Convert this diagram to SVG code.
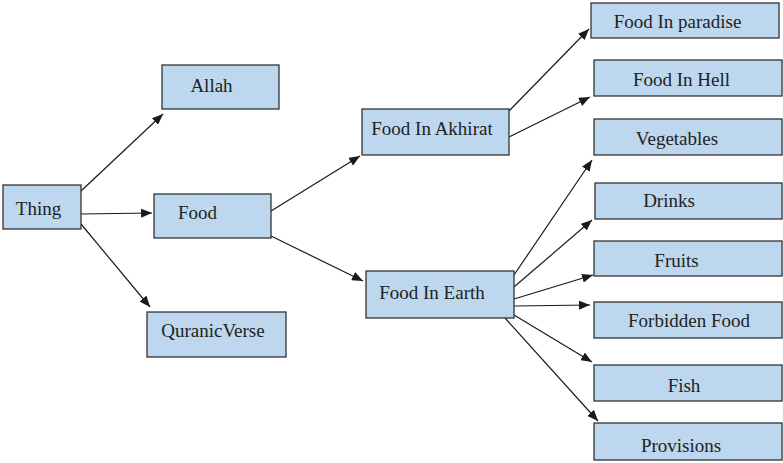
<svg xmlns="http://www.w3.org/2000/svg" width="783" height="463" viewBox="0 0 783 463">
<defs>
<marker id="ah" markerWidth="11" markerHeight="9" refX="11" refY="4.5" orient="auto" markerUnits="userSpaceOnUse">
<path d="M0,0 L11,4.5 L0,9 Z" fill="#1a1a1a"/>
</marker>
</defs>
<style>
.box{fill:#bdd7ee;stroke:#333;stroke-width:1.3}
.t{font-size:19px;fill:#222;text-anchor:middle}
.c{stroke:#1a1a1a;stroke-width:1.2;fill:none;marker-end:url(#ah)}
</style>
<rect width="783" height="463" fill="#fff"/>
<g id="connectors">
<line class="c" x1="81" y1="191" x2="163" y2="114"/>
<line class="c" x1="81" y1="214" x2="152" y2="213"/>
<line class="c" x1="81" y1="224" x2="150" y2="307"/>
<line class="c" x1="271" y1="211" x2="360" y2="156"/>
<line class="c" x1="271" y1="236" x2="363" y2="281"/>
<line class="c" x1="509" y1="111" x2="589" y2="29"/>
<line class="c" x1="509" y1="137" x2="590" y2="97"/>
<line class="c" x1="514" y1="275" x2="592" y2="160"/>
<line class="c" x1="514" y1="287" x2="592" y2="220"/>
<line class="c" x1="514" y1="299" x2="593" y2="275"/>
<line class="c" x1="514" y1="306" x2="590" y2="305"/>
<line class="c" x1="514" y1="315" x2="592" y2="362"/>
<line class="c" x1="505" y1="318" x2="598" y2="421"/>
</g>
<g font-family="Liberation Serif, Times New Roman, DejaVu Serif, serif">
<g id="thing"><rect class="box" x="3" y="185" width="78" height="44"/><text class="t" x="38.5" y="215">Thing</text></g>
<g id="allah"><rect class="box" x="162" y="65" width="117" height="44"/><text class="t" x="211.5" y="92">Allah</text></g>
<g id="food"><rect class="box" x="154" y="194" width="117" height="44"/><text class="t" x="197.5" y="219">Food</text></g>
<g id="quranicverse"><rect class="box" x="147" y="312" width="139" height="45"/><text class="t" x="213" y="337">QuranicVerse</text></g>
<g id="food-in-akhirat"><rect class="box" x="362" y="109" width="147" height="46"/><text class="t" x="432" y="135">Food In Akhirat</text></g>
<g id="food-in-earth"><rect class="box" x="366" y="271" width="148" height="47"/><text class="t" x="432" y="299">Food In Earth</text></g>
<g id="food-in-paradise"><rect class="box" x="591" y="3" width="188" height="35"/><text class="t" x="677.5" y="28">Food In paradise</text></g>
<g id="food-in-hell"><rect class="box" x="594" y="60" width="188" height="36"/><text class="t" x="681.5" y="86">Food In Hell</text></g>
<g id="vegetables"><rect class="box" x="594" y="119" width="188" height="36"/><text class="t" x="677" y="145">Vegetables</text></g>
<g id="drinks"><rect class="box" x="595" y="183" width="187" height="36"/><text class="t" x="669" y="207">Drinks</text></g>
<g id="fruits"><rect class="box" x="594" y="241" width="188" height="35"/><text class="t" x="676.5" y="267">Fruits</text></g>
<g id="forbidden-food"><rect class="box" x="594" y="302" width="188" height="36"/><text class="t" x="689" y="327">Forbidden Food</text></g>
<g id="fish"><rect class="box" x="594" y="365" width="188" height="36"/><text class="t" x="684" y="392">Fish</text></g>
<g id="provisions"><rect class="box" x="594" y="423" width="188" height="37"/><text class="t" x="681" y="452">Provisions</text></g>
</g>
</svg>
